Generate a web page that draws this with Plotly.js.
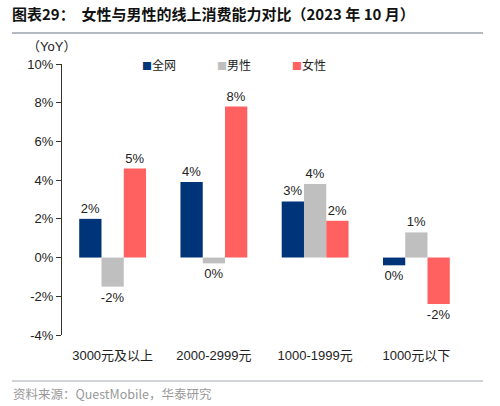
<!DOCTYPE html>
<html><head><meta charset="utf-8">
<script src="https://cdn.plot.ly/plotly-3.0.1.min.js"></script>
<style>html,body{margin:0;padding:0;background:#fff}#c{width:500px;height:406px}</style>
</head><body><div id="c"></div>
<script>
const categories = ['3000元及以上', '2000-2999元', '1000-1999元', '1000元以下'];
const seriesNames = ['全网', '男性', '女性'];
const allNet = [2.0, 3.9, 2.9, -0.4];
const male = [-1.5, -0.3, 3.8, 1.3];
const female = [4.6, 7.8, 1.9, -2.4];
const colors = ['#003478', '#BFBFBF', '#FF6161'];
const yTicks = [-4, -2, 0, 2, 4, 6, 8, 10];

const W = 500, H = 406, L = 62, R = 33, T = 64, B = 71;
const px = x => (x - L) / (W - L - R);
const py = y => (H - B - y) / (H - T - B);
const fmt = v => { const r = Math.sign(v) * Math.round(Math.abs(v)); return (r === 0 ? 0 : r) + '%'; };
const FONT = '"Liberation Sans", Arial, "Noto Sans CJK SC", sans-serif';
const CJK = '"Noto Sans CJK SC", sans-serif';

const traces = [allNet, male, female].map((vals, i) => ({
  type: 'bar', name: seriesNames[i], x: categories, y: vals,
  marker: { color: colors[i] },
  text: vals.map(fmt), textposition: 'outside', cliponaxis: false, constraintext: 'none',
  textfont: { family: FONT, size: 13, color: '#222' }
}));

const legendAnn = seriesNames.map((n, i) => ({
  text: '<span style="color:' + colors[i] + ';font-size:10px">■</span>' + n,
  xref: 'paper', yref: 'paper', x: px(140 + 75 * i), y: py(64), xanchor: 'left', yanchor: 'middle',
  showarrow: false, font: { family: CJK, size: 12, color: '#222' }
}));

const layout = {
  width: W, height: H,
  margin: { l: L, r: R, t: T, b: B, autoexpand: false },
  paper_bgcolor: '#fff', plot_bgcolor: '#fff',
  font: { family: FONT, size: 13, color: '#222' },
  barmode: 'group', bargap: 0.34, bargroupgap: 0,
  showlegend: false,
  title: { text: '<b>图表29：  女性与男性的线上消费能力对比（2023 年 10 月）</b>',
    x: 12 / W, xanchor: 'left', xref: 'container', y: 1 - 15 / H, yref: 'container', yanchor: 'middle',
    font: { family: CJK, size: 15, color: '#111' } },
  xaxis: { type: 'category', categoryarray: categories, range: [-0.5, 3.5],
    showline: false, showgrid: false, zeroline: false, ticks: 'outside', ticklen: 8, tickcolor: 'rgba(0,0,0,0)',
    tickfont: { family: FONT, size: 13, color: '#222' } },
  xaxis2: { type: 'category', categoryarray: categories, range: [-0.5, 3.5], overlaying: 'x',
    anchor: 'free', position: py(257), side: 'bottom', showline: true, linecolor: '#333', linewidth: 1,
    ticks: 'outside', tickson: 'boundaries', ticklen: 5, tickcolor: '#333', showticklabels: false, showgrid: false },
  yaxis: { range: [-4, 10], tickvals: yTicks, ticktext: yTicks.map(v => v + '%'),
    showline: true, linecolor: '#333', linewidth: 1, ticks: 'outside', ticklen: 5, tickcolor: '#333',
    showgrid: false, zeroline: false, tickfont: { family: FONT, size: 13, color: '#222' } },
  annotations: [
    { text: '（YoY）', xref: 'paper', yref: 'paper', x: px(25), y: py(47), xanchor: 'left', yanchor: 'middle',
      showarrow: false, font: { family: FONT, size: 13, color: '#222' } },
    { text: '资料来源：QuestMobile，华泰研究', xref: 'paper', yref: 'paper', x: px(11), y: py(393),
      xanchor: 'left', yanchor: 'middle', showarrow: false,
      font: { family: CJK, size: 12.5, color: '#999' } }
  ].concat(legendAnn),
  shapes: [
    { type: 'line', xref: 'paper', yref: 'paper', x0: px(12), x1: px(483), y0: py(33), y1: py(33),
      line: { color: '#9AA3AD', width: 1.5 } },
    { type: 'line', xref: 'paper', yref: 'paper', x0: px(12), x1: px(483), y0: py(381), y1: py(381),
      line: { color: '#C0C6CC', width: 1.5 } }
  ]
};

Plotly.newPlot('c', traces, layout, { displayModeBar: false, staticPlot: true });
</script></body></html>
